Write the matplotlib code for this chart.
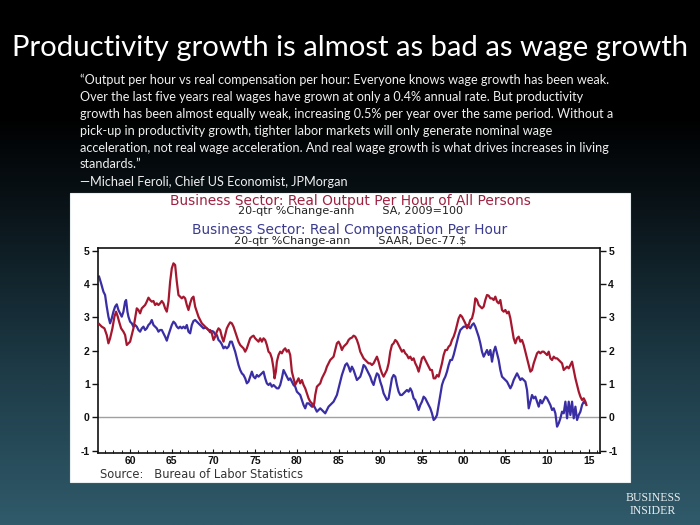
import numpy as np
import matplotlib
matplotlib.use("Agg")
import matplotlib.pyplot as plt
from matplotlib.colors import LinearSegmentedColormap
from matplotlib.patches import Rectangle
from matplotlib.ticker import FixedLocator, MultipleLocator

# ---------------- data ----------------
title = "Productivity growth is almost as bad as wage growth"
quote_lines = [
    "\u201cOutput per hour vs real compensation per hour: Everyone knows wage growth has been weak.",
    "Over the last five years real wages have grown at only a 0.4% annual rate. But productivity",
    "growth has been almost equally weak, increasing 0.5% per year over the same period. Without a",
    "pick-up in productivity growth, tighter labor markets will only generate nominal wage",
    "acceleration, not real wage acceleration. And real wage growth is what drives increases in living",
    "standards.\u201d",
]
attribution = "\u2014Michael Feroli, Chief US Economist, JPMorgan"
header1 = "Business Sector: Real Output Per Hour of All Persons"
header2 = "20-qtr %Change-ann        SA, 2009=100"
header3 = "Business Sector: Real Compensation Per Hour"
header4 = "20-qtr %Change-ann        SAAR, Dec-77.$"
source = "Source:   Bureau of Labor Statistics"

year_ticks = [1960, 1965, 1970, 1975, 1980, 1985, 1990, 1995, 2000, 2005, 2010, 2015]
year_labels = ["60", "65", "70", "75", "80", "85", "90", "95", "00", "05", "10", "15"]
y_ticks = [-1, 0, 1, 2, 3, 4, 5]

# Real output per hour, 20-qtr % change ann. (red)
output_year = [
    1956.28, 1956.6, 1956.92, 1957.2, 1957.4, 1957.6, 1957.88, 1958.12, 1958.32, 1958.52,
    1958.68, 1958.92, 1959.2, 1959.4, 1959.6, 1959.8, 1960.0, 1960.2, 1960.4, 1960.6,
    1960.8, 1961.0, 1961.2, 1961.4, 1961.6, 1961.8, 1962.0, 1962.2, 1962.4, 1962.6,
    1962.8, 1963.0, 1963.2, 1963.4, 1963.6, 1963.8, 1964.0, 1964.2, 1964.4, 1964.6,
    1964.8, 1965.0, 1965.2, 1965.4, 1965.6, 1965.8, 1966.0, 1966.2, 1966.4, 1966.6,
    1966.8, 1967.0, 1967.2, 1967.4, 1967.6, 1967.8, 1968.0, 1968.2, 1968.4, 1968.6,
    1968.8, 1969.0, 1969.2, 1969.4, 1969.6, 1969.8, 1970.0, 1970.2, 1970.4, 1970.6,
    1970.8, 1971.0, 1971.2, 1971.4, 1971.6, 1971.8, 1972.0, 1972.2, 1972.4, 1972.6,
    1972.8, 1973.0, 1973.2, 1973.4, 1973.6, 1973.8, 1974.0, 1974.2, 1974.4, 1974.6,
    1974.8, 1975.0, 1975.2, 1975.4, 1975.6, 1975.8, 1976.0, 1976.2, 1976.4, 1976.6,
    1976.8, 1977.0, 1977.2, 1977.32, 1977.48, 1977.6, 1977.8, 1978.0, 1978.2, 1978.4,
    1978.6, 1978.8, 1979.0, 1979.2, 1979.4, 1979.6, 1979.8, 1980.0, 1980.2, 1980.4,
    1980.6, 1980.8, 1981.0, 1981.2, 1981.4, 1981.6, 1981.8, 1981.92, 1982.08, 1982.2,
    1982.4, 1982.6, 1982.8, 1983.0, 1983.2, 1983.4, 1983.6, 1983.8, 1984.0, 1984.2,
    1984.4, 1984.6, 1984.8, 1985.0, 1985.2, 1985.4, 1985.6, 1985.8, 1986.0, 1986.2,
    1986.4, 1986.6, 1986.8, 1987.0, 1987.2, 1987.4, 1987.6, 1987.8, 1988.0, 1988.2,
    1988.4, 1988.6, 1988.8, 1989.0, 1989.2, 1989.4, 1989.6, 1989.8, 1990.0, 1990.2,
    1990.4, 1990.6, 1990.8, 1991.0, 1991.2, 1991.4, 1991.6, 1991.8, 1992.0, 1992.2,
    1992.4, 1992.6, 1992.8, 1993.0, 1993.2, 1993.4, 1993.6, 1993.8, 1994.0, 1994.2,
    1994.4, 1994.6, 1994.8, 1995.0, 1995.2, 1995.4, 1995.6, 1995.8, 1996.0, 1996.2,
    1996.4, 1996.6, 1996.8, 1997.0, 1997.2, 1997.4, 1997.6, 1997.8, 1998.0, 1998.2,
    1998.4, 1998.6, 1998.8, 1999.0, 1999.2, 1999.4, 1999.6, 1999.8, 2000.0, 2000.2,
    2000.4, 2000.6, 2000.8, 2001.0, 2001.2, 2001.4, 2001.6, 2001.8, 2002.0, 2002.2,
    2002.4, 2002.6, 2002.8, 2003.0, 2003.2, 2003.4, 2003.6, 2003.8, 2004.0, 2004.2,
    2004.4, 2004.6, 2004.8, 2005.0, 2005.2, 2005.4, 2005.6, 2005.8, 2006.0, 2006.2,
    2006.4, 2006.6, 2006.8, 2007.0, 2007.2, 2007.4, 2007.6, 2007.8, 2008.0, 2008.2,
    2008.4, 2008.6, 2008.8, 2009.0, 2009.2, 2009.4, 2009.6, 2009.8, 2010.0, 2010.2,
    2010.4, 2010.6, 2010.8, 2011.0, 2011.2, 2011.4, 2011.6, 2011.8, 2012.0, 2012.2,
    2012.4, 2012.6, 2012.8, 2013.0, 2013.2, 2013.4, 2013.6, 2013.8, 2014.0, 2014.2,
    2014.4, 2014.6, 2014.72,
]
output_val = [
    2.80, 2.72, 2.67, 2.47, 2.22, 2.37, 2.67, 3.02, 3.17, 3.02,
    2.87, 2.67, 2.57, 2.47, 2.17, 2.22, 2.27, 2.47, 2.67, 2.97,
    3.27, 3.22, 3.12, 3.27, 3.32, 3.37, 3.47, 3.59, 3.52, 3.47,
    3.49, 3.37, 3.42, 3.37, 3.42, 3.49, 3.42, 3.27, 3.17, 3.47,
    4.07, 4.47, 4.62, 4.57, 4.07, 3.67, 3.62, 3.57, 3.62, 3.57,
    3.37, 3.22, 3.42, 3.57, 3.62, 3.32, 3.17, 3.02, 2.92, 2.82,
    2.77, 2.72, 2.67, 2.62, 2.62, 2.52, 2.32, 2.42, 2.57, 2.67,
    2.62, 2.42, 2.27, 2.47, 2.67, 2.77, 2.85, 2.82, 2.72, 2.57,
    2.42, 2.27, 2.17, 2.12, 2.07, 1.97, 2.07, 2.22, 2.37, 2.42,
    2.45, 2.37, 2.32, 2.27, 2.37, 2.27, 2.37, 2.32, 2.17, 1.97,
    1.92, 1.77, 1.47, 1.17, 1.37, 1.67, 1.87, 1.97, 1.92, 2.02,
    2.07, 1.97, 2.02, 1.87, 1.37, 1.17, 0.97, 1.07, 1.17, 1.02,
    1.12, 0.97, 0.87, 0.72, 0.57, 0.47, 0.42, 0.32, 0.42, 0.67,
    0.92, 0.97, 1.02, 1.17, 1.27, 1.37, 1.52, 1.62, 1.72, 1.77,
    1.82, 2.02, 2.22, 2.27, 2.17, 2.02, 2.12, 2.17, 2.22, 2.32,
    2.37, 2.39, 2.45, 2.42, 2.32, 2.17, 1.97, 1.87, 1.77, 1.72,
    1.67, 1.62, 1.62, 1.57, 1.62, 1.72, 1.82, 1.67, 1.47, 1.32,
    1.22, 1.32, 1.42, 1.62, 1.97, 2.17, 2.22, 2.32, 2.27, 2.17,
    2.07, 1.97, 2.02, 1.92, 1.87, 1.77, 1.82, 1.72, 1.77, 1.62,
    1.52, 1.37, 1.57, 1.77, 1.82, 1.72, 1.62, 1.52, 1.42, 1.42,
    1.17, 1.17, 1.27, 1.22, 1.42, 1.62, 1.87, 2.02, 2.02, 2.12,
    2.17, 2.32, 2.42, 2.57, 2.77, 2.97, 3.07, 3.02, 2.92, 2.82,
    2.67, 2.77, 2.92, 2.97, 3.17, 3.57, 3.52, 3.37, 3.32, 3.27,
    3.32, 3.52, 3.67, 3.65, 3.57, 3.57, 3.52, 3.62, 3.47, 3.42,
    3.52, 3.22, 3.17, 3.22, 3.12, 3.17, 2.97, 2.67, 2.37, 2.22,
    2.37, 2.42, 2.27, 2.32, 2.17, 1.97, 1.77, 1.57, 1.37, 1.42,
    1.62, 1.77, 1.92, 1.97, 1.92, 1.97, 1.97, 1.92, 1.87, 1.97,
    1.77, 1.72, 1.82, 1.77, 1.77, 1.72, 1.67, 1.62, 1.42, 1.47,
    1.52, 1.47, 1.57, 1.67, 1.42, 1.17, 0.97, 0.77, 0.62, 0.52,
    0.57, 0.47, 0.37,
]

# Real compensation per hour, 20-qtr % change ann. (blue)
comp_year = [
    1956.28, 1956.52, 1956.8, 1957.0, 1957.2, 1957.4, 1957.6, 1957.8, 1958.0, 1958.2,
    1958.4, 1958.6, 1958.8, 1959.0, 1959.2, 1959.4, 1959.52, 1959.68, 1959.8, 1960.0,
    1960.2, 1960.4, 1960.6, 1960.8, 1961.0, 1961.2, 1961.4, 1961.6, 1961.8, 1962.0,
    1962.2, 1962.4, 1962.6, 1962.8, 1963.0, 1963.2, 1963.4, 1963.6, 1963.8, 1964.0,
    1964.2, 1964.4, 1964.6, 1964.8, 1965.0, 1965.2, 1965.4, 1965.6, 1965.8, 1966.0,
    1966.2, 1966.4, 1966.6, 1966.8, 1967.0, 1967.2, 1967.4, 1967.6, 1967.8, 1968.0,
    1968.2, 1968.4, 1968.6, 1968.8, 1969.0, 1969.2, 1969.4, 1969.6, 1969.8, 1970.0,
    1970.2, 1970.4, 1970.6, 1970.8, 1971.0, 1971.2, 1971.4, 1971.6, 1971.8, 1972.0,
    1972.2, 1972.4, 1972.6, 1972.8, 1973.0, 1973.2, 1973.4, 1973.6, 1973.8, 1974.0,
    1974.2, 1974.4, 1974.6, 1974.8, 1975.0, 1975.2, 1975.4, 1975.6, 1975.8, 1976.0,
    1976.2, 1976.4, 1976.6, 1976.8, 1977.0, 1977.2, 1977.4, 1977.6, 1977.8, 1978.0,
    1978.2, 1978.4, 1978.6, 1978.8, 1979.0, 1979.2, 1979.4, 1979.6, 1979.8, 1980.0,
    1980.2, 1980.4, 1980.6, 1980.8, 1981.0, 1981.2, 1981.4, 1981.6, 1981.8, 1982.0,
    1982.2, 1982.4, 1982.6, 1982.8, 1983.0, 1983.2, 1983.4, 1983.6, 1983.8, 1984.0,
    1984.2, 1984.4, 1984.6, 1984.8, 1985.0, 1985.2, 1985.4, 1985.6, 1985.8, 1986.0,
    1986.2, 1986.4, 1986.6, 1986.8, 1987.0, 1987.2, 1987.4, 1987.6, 1987.8, 1988.0,
    1988.2, 1988.4, 1988.6, 1988.8, 1989.0, 1989.2, 1989.4, 1989.6, 1989.8, 1990.0,
    1990.2, 1990.4, 1990.6, 1990.8, 1991.0, 1991.2, 1991.4, 1991.6, 1991.8, 1992.0,
    1992.2, 1992.4, 1992.6, 1992.8, 1993.0, 1993.2, 1993.4, 1993.6, 1993.8, 1994.0,
    1994.2, 1994.4, 1994.6, 1994.8, 1995.0, 1995.2, 1995.4, 1995.6, 1995.8, 1996.0,
    1996.2, 1996.4, 1996.6, 1996.8, 1997.0, 1997.2, 1997.4, 1997.6, 1997.8, 1998.0,
    1998.2, 1998.4, 1998.6, 1998.8, 1999.0, 1999.2, 1999.4, 1999.6, 1999.8, 2000.0,
    2000.2, 2000.4, 2000.6, 2000.8, 2001.0, 2001.2, 2001.4, 2001.6, 2001.8, 2002.0,
    2002.2, 2002.4, 2002.6, 2002.8, 2003.0, 2003.2, 2003.4, 2003.6, 2003.8, 2004.0,
    2004.2, 2004.4, 2004.6, 2004.8, 2005.0, 2005.2, 2005.4, 2005.6, 2005.8, 2006.0,
    2006.2, 2006.4, 2006.6, 2006.8, 2007.0, 2007.2, 2007.4, 2007.6, 2007.8, 2008.0,
    2008.2, 2008.4, 2008.6, 2008.8, 2009.0, 2009.2, 2009.4, 2009.6, 2009.8, 2010.0,
    2010.2, 2010.4, 2010.6, 2010.8, 2011.0, 2011.2, 2011.4, 2011.6, 2011.8, 2012.0,
    2012.2, 2012.4, 2012.6, 2012.8, 2013.0, 2013.2, 2013.4, 2013.6, 2013.8, 2014.0,
    2014.2, 2014.4, 2014.6,
]
comp_val = [
    4.22, 4.02, 3.77, 3.67, 3.32, 3.02, 2.82, 2.97, 3.17, 3.32,
    3.39, 3.22, 3.12, 3.02, 3.17, 3.47, 3.52, 3.17, 3.02, 2.87,
    2.82, 2.72, 2.77, 2.72, 2.62, 2.57, 2.67, 2.72, 2.62, 2.67,
    2.77, 2.82, 2.92, 2.77, 2.72, 2.67, 2.57, 2.62, 2.62, 2.52,
    2.42, 2.30, 2.47, 2.62, 2.77, 2.87, 2.82, 2.72, 2.67, 2.72,
    2.67, 2.72, 2.67, 2.77, 2.57, 2.52, 2.77, 2.89, 2.92, 2.87,
    2.82, 2.77, 2.72, 2.67, 2.69, 2.67, 2.62, 2.55, 2.59, 2.57,
    2.49, 2.47, 2.32, 2.27, 2.19, 2.07, 2.12, 2.07, 2.12, 2.27,
    2.27, 2.12, 1.97, 1.77, 1.57, 1.42, 1.32, 1.27, 1.17, 1.02,
    1.07, 1.22, 1.37, 1.22, 1.17, 1.27, 1.22, 1.27, 1.32, 1.37,
    1.17, 1.02, 0.97, 1.02, 0.92, 0.97, 0.92, 0.87, 0.87, 0.97,
    1.17, 1.42, 1.32, 1.22, 1.12, 1.17, 1.07, 0.97, 0.92, 0.77,
    0.72, 0.67, 0.52, 0.37, 0.27, 0.42, 0.42, 0.37, 0.32, 0.37,
    0.27, 0.17, 0.22, 0.27, 0.22, 0.17, 0.12, 0.22, 0.32, 0.37,
    0.42, 0.47, 0.57, 0.67, 0.87, 1.07, 1.27, 1.42, 1.57, 1.62,
    1.52, 1.37, 1.52, 1.42, 1.27, 1.12, 1.17, 1.22, 1.37, 1.57,
    1.52, 1.42, 1.32, 1.22, 1.07, 0.97, 1.17, 1.32, 1.27, 1.07,
    0.92, 0.72, 0.62, 0.52, 0.57, 0.87, 1.17, 1.27, 1.22, 0.97,
    0.77, 0.67, 0.67, 0.72, 0.77, 0.82, 0.77, 0.87, 0.77, 0.57,
    0.52, 0.37, 0.22, 0.37, 0.47, 0.62, 0.57, 0.47, 0.37, 0.27,
    0.12, -0.08, -0.03, 0.07, 0.37, 0.67, 0.97, 1.12, 1.22, 1.37,
    1.57, 1.72, 1.72, 1.87, 2.07, 2.27, 2.47, 2.62, 2.67, 2.72,
    2.72, 2.77, 2.72, 2.67, 2.77, 2.82, 2.72, 2.57, 2.42, 2.22,
    1.97, 1.82, 1.92, 2.02, 1.87, 2.02, 1.67, 1.97, 2.12, 1.92,
    1.72, 1.42, 1.22, 1.17, 1.12, 1.07, 0.97, 0.87, 0.97, 1.12,
    1.22, 1.32, 1.22, 1.12, 1.17, 1.12, 1.07, 0.82, 0.27, 0.47,
    0.67, 0.57, 0.62, 0.47, 0.32, 0.52, 0.42, 0.52, 0.62, 0.57,
    0.47, 0.37, 0.22, 0.27, 0.12, -0.28, -0.18, -0.03, 0.17, 0.12,
    0.47, -0.03, 0.47, 0.07, 0.47, -0.03, 0.32, -0.08, 0.07, 0.17,
    0.37, 0.47, 0.42,
]

# ---------------- layout ----------------
W, H = 700, 525
fig = plt.figure(figsize=(W / 100, H / 100), dpi=100)


def fx(x):
    return x / W


def fy(y):
    return 1 - y / H


# background gradient
bg = fig.add_axes([0, 0, 1, 1])
bg.set_axis_off()
grad = np.linspace(0, 1, 512).reshape(-1, 1)
cmap = LinearSegmentedColormap.from_list(
    "bg", [(0.0, "#000000"), (0.22, "#000000"), (0.40, "#0a1419"),
           (0.70, "#1d3a46"), (1.0, "#305a6a")])
bg.imshow(grad, aspect="auto", cmap=cmap, extent=[0, 1, 0, 1], origin="upper")
bg.set_xlim(0, 1)
bg.set_ylim(0, 1)
bg.add_patch(Rectangle((fx(70), fy(482)), (630 - 70) / W, (482 - 193) / H,
                       transform=bg.transAxes, facecolor="white",
                       edgecolor="#e6eef0", lw=0.8, zorder=3))

renderer = None


def fit(t, width_px):
    global renderer
    if renderer is None:
        renderer = fig.canvas.get_renderer()
    bb = t.get_window_extent(renderer=renderer)
    t.set_fontsize(t.get_fontsize() * width_px / bb.width)


sans = ["Lato", "DejaVu Sans"]
arial = ["Liberation Sans", "DejaVu Sans"]
wide = ["DejaVu Sans"]

t_title = fig.text(fx(350), fy(48), title, color="white", ha="center",
                   va="center", family=sans, fontsize=24)
fit(t_title, 676)

qy = [80, 97, 114, 131, 148, 164]
q_texts = []
for line, y in zip(quote_lines, qy):
    q_texts.append(fig.text(fx(80), fy(y), line, color="#f0f0f0", ha="left",
                            va="center", family=sans, fontsize=10))
fit(q_texts[2], 534)
for t in q_texts:
    t.set_fontsize(q_texts[2].get_fontsize())
fig.text(fx(80), fy(182), attribution, color="#f0f0f0", ha="left",
         va="center", family=sans, fontsize=q_texts[2].get_fontsize())

red = "#a5172f"
blue = "#3a2ea4"
h1 = fig.text(fx(350), fy(201), header1, color="#9e2040", ha="center",
              va="center", family=wide, fontsize=8, zorder=5)
fit(h1, 360)
h2 = fig.text(fx(350), fy(211.5), header2, color="#222222", ha="center",
              va="center", family=wide, fontsize=6.5, zorder=5)
fit(h2, 224)
h3 = fig.text(fx(350), fy(230), header3, color="#3b3b8f", ha="center",
              va="center", family=wide, fontsize=h1.get_fontsize(), zorder=5)
h4 = fig.text(fx(350), fy(240.5), header4, color="#222222", ha="center",
              va="center", family=wide, fontsize=h2.get_fontsize(), zorder=5)
t_src = fig.text(fx(100), fy(474), source, color="#333333", ha="left",
                 va="center", family=wide, fontsize=7.0, zorder=5)
fit(t_src, 204)

# logo
fig.text(fx(653), fy(498), "BUSINESS", color="#e8eef0", ha="center",
         va="center", family=["Liberation Serif", "DejaVu Serif"],
         fontsize=8.5)
fig.text(fx(653), fy(511), "INSIDER", color="#e8eef0", ha="center",
         va="center", family=["Liberation Serif", "DejaVu Serif"],
         fontsize=8.5)

# main chart
ax = fig.add_axes([fx(98), fy(453), (600 - 98) / W, (453 - 248) / H])
ax.set_facecolor("white")
ax.set_zorder(4)
ax.axhline(0, color="#a0a0a0", lw=1.0, zorder=1)
ax.plot(comp_year, comp_val, color=blue, lw=1.6, zorder=2)
ax.plot(output_year, output_val, color=red, lw=1.6, zorder=3)

ax.set_xlim(1956.15, 2016.35)
ax.set_ylim(-1.07, 5.08)
ax.set_yticks(y_ticks)
ax.set_yticklabels([str(v) for v in y_ticks])
ax.tick_params(axis="y", which="major", direction="out", length=4, width=1,
               left=True, right=True, labelleft=True, labelright=True,
               labelsize=7.5, pad=2, colors="#111111")
ax.xaxis.set_major_locator(FixedLocator(year_ticks))
ax.set_xticklabels(year_labels)
ax.xaxis.set_minor_locator(MultipleLocator(1))
ax.tick_params(axis="x", which="major", direction="in", length=3, width=0.8,
               labelsize=7.5, pad=2, colors="#111111")
ax.tick_params(axis="x", which="minor", direction="in", length=2, width=0.6)
for lab in ax.get_xticklabels() + ax.get_yticklabels():
    lab.set_family(arial)
    lab.set_fontweight("bold")
for s in ax.spines.values():
    s.set_linewidth(1.2)
    s.set_color("#111111")

fig.savefig("out.png", dpi=100)
